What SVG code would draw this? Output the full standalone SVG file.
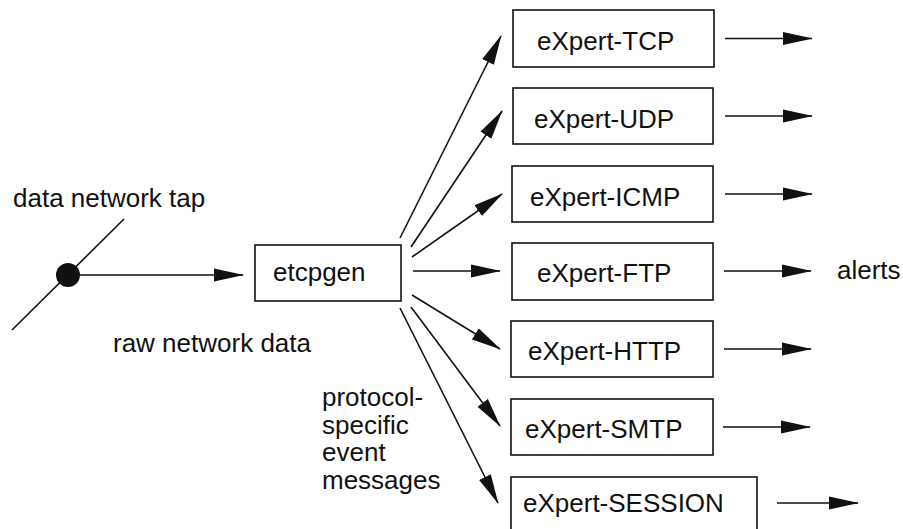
<svg xmlns="http://www.w3.org/2000/svg" width="903" height="529" viewBox="0 0 903 529">
  <style>
    text { font-family: "Liberation Sans", Arial, sans-serif; font-size: 26px; fill: #111; }
    .box { fill: #fff; stroke: #111; stroke-width: 1.6; }
    .edge { fill: none; stroke: #111; stroke-width: 1.6; }
  </style>
  <defs>
    <marker id="head" markerUnits="userSpaceOnUse" markerWidth="30" markerHeight="14" refX="29" refY="7" orient="auto">
      <path d="M0,0.5 L30,7 L0,13.5 Z" fill="#111"/>
    </marker>
  </defs>
  <rect width="903" height="529" fill="#fff"/>

  <!-- network tap -->
  <g id="tap">
    <line x1="12" y1="330" x2="124" y2="219" class="edge"/>
    <circle cx="68" cy="275" r="12" fill="#111"/>
    <text x="13" y="207">data network tap</text>
  </g>

  <g id="etcpgen">
    <rect class="box" x="255" y="245" width="146" height="56"/>
    <text x="273" y="281">etcpgen</text>
  </g>

  <g id="expert-tcp">
    <rect class="box" x="513" y="10" width="201" height="57"/>
    <text x="537" y="50">eXpert-TCP</text>
  </g>
  <g id="expert-udp">
    <rect class="box" x="513" y="88" width="200" height="56"/>
    <text x="534" y="127.5">eXpert-UDP</text>
  </g>
  <g id="expert-icmp">
    <rect class="box" x="512" y="166" width="201" height="56"/>
    <text x="530" y="205.5">eXpert-ICMP</text>
  </g>
  <g id="expert-ftp">
    <rect class="box" x="512" y="243" width="201" height="57"/>
    <text x="537" y="282">eXpert-FTP</text>
  </g>
  <g id="expert-http">
    <rect class="box" x="511" y="321" width="202" height="56"/>
    <text x="528" y="360">eXpert-HTTP</text>
  </g>
  <g id="expert-smtp">
    <rect class="box" x="511" y="399" width="202" height="56"/>
    <text x="525" y="438">eXpert-SMTP</text>
  </g>
  <g id="expert-session">
    <rect class="box" x="511" y="477" width="246" height="60"/>
    <text x="523" y="512">eXpert-SESSION</text>
  </g>

  <!-- labels -->
  <g id="labels">
    <text x="113" y="352">raw network data</text>
    <text x="322" y="406">protocol-<tspan x="322" dy="27.5">specific</tspan><tspan x="322" dy="27.5">event</tspan><tspan x="322" dy="27.5">messages</tspan></text>
    <text x="837" y="279">alerts</text>
  </g>

  <g id="connectors" class="edge" marker-end="url(#head)">
    <line x1="80" y1="275" x2="243" y2="275"/>
    <!-- fan-out to protocol experts -->
    <line x1="400" y1="238" x2="501" y2="36"/>
    <line x1="411" y1="247" x2="502" y2="111"/>
    <line x1="412" y1="257" x2="502" y2="194"/>
    <line x1="413" y1="271" x2="500" y2="271"/>
    <line x1="412" y1="295" x2="500" y2="349"/>
    <line x1="411" y1="307" x2="500" y2="426"/>
    <line x1="400" y1="308" x2="498" y2="503"/>
    <!-- alert outputs -->
    <line x1="725" y1="38.5" x2="812" y2="38.5"/>
    <line x1="725" y1="116" x2="812" y2="116"/>
    <line x1="725" y1="194" x2="812" y2="194"/>
    <line x1="724" y1="271" x2="811" y2="271"/>
    <line x1="724" y1="349" x2="811" y2="349"/>
    <line x1="723" y1="427" x2="810" y2="427"/>
    <line x1="777" y1="503" x2="858" y2="503"/>
  </g>
</svg>
